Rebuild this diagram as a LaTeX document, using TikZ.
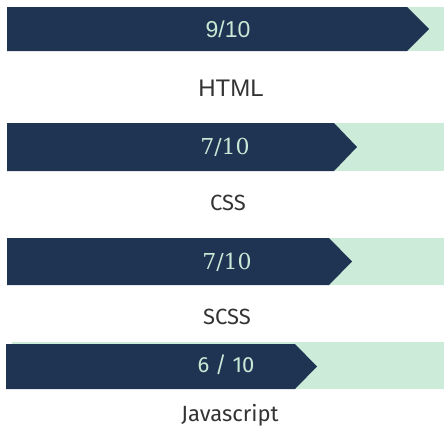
\documentclass[tikz,border=0pt]{standalone}
\usepackage{fontspec}
\setmainfont{Fira Sans}
\newfontfamily\plainsans{Liberation Sans}
\newfontfamily\slabserif{DejaVu Serif}
\definecolor{navy}{HTML}{1F3352}
\definecolor{mint}{HTML}{CDEBD9}
\definecolor{scoretext}{HTML}{C8E9D6}
\definecolor{labeltext}{HTML}{333333}

\begin{document}
\begin{tikzpicture}
  [x=1pt, y=-1pt,
   track/.style={fill=mint},
   bar/.style={fill=navy},
   score/.style={text=scoretext, inner sep=0pt, font=\fontsize{22}{26}\selectfont},
   skill/.style={text=labeltext, inner sep=0pt, font=\fontsize{22}{26}\selectfont}]
  \useasboundingbox (0,0) rectangle (444,426);
  % HTML
  \fill[track] (407,7) rectangle (444,51);
  \fill[bar] (7,7) -- (407,7) -- (429,29) -- (407,51) -- (7,51) -- cycle;
  \node[score] (html score) at (228,29) {\plainsans\fontsize{23}{26}\selectfont 9/10};
  \node[skill] (html) at (231,88) {\plainsans\fontsize{24}{26}\selectfont HTML};
  % CSS
  \fill[track] (334,123) rectangle (444,171);
  \fill[bar] (7,123) -- (334,123) -- (357,147) -- (334,171) -- (7,171) -- cycle;
  \node[score] (css score) at (225,147) {\slabserif 7/10};
  \node[skill] (css) at (228,203) {CSS};
  % SCSS
  \fill[track] (329,238) rectangle (444,285);
  \fill[bar] (7,238) -- (329,238) -- (352,261.5) -- (329,285) -- (7,285) -- cycle;
  \node[score] (scss score) at (227,262) {\slabserif 7/10};
  \node[skill] (scss) at (227,317) {SCSS};
  % Javascript
  \fill[track] (12,342) rectangle (444,389);
  \fill[bar] (6,344) -- (295,344) -- (317,366.5) -- (295,389) -- (6,389) -- cycle;
  \node[score] (js score) at (226,365) {6 / 10};
  \node[skill] (js) at (230,415) {Javascript};
\end{tikzpicture}
\end{document}
